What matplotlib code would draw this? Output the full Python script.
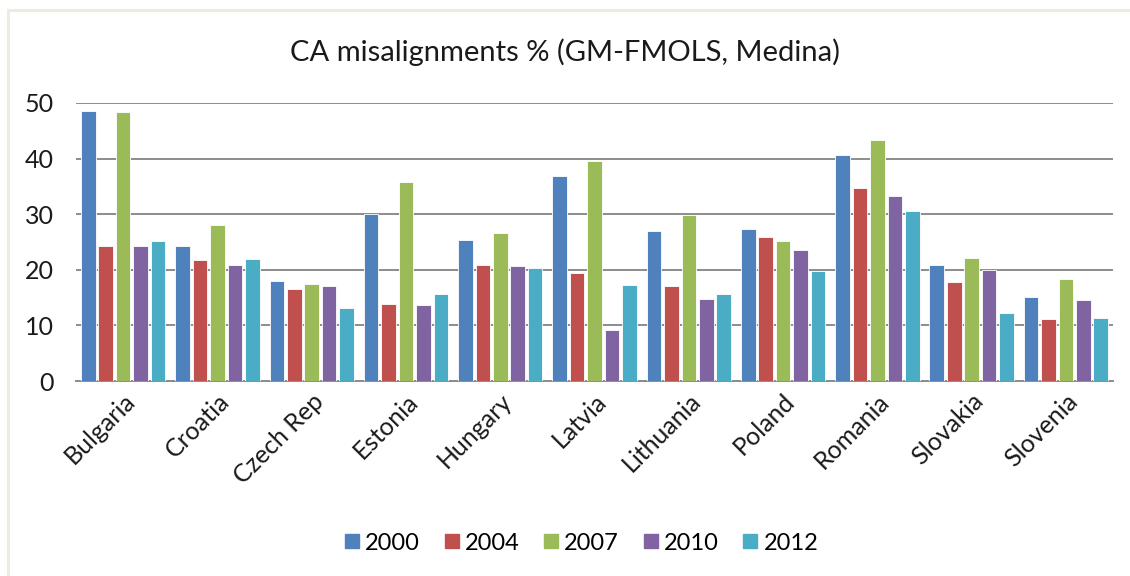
#!/usr/bin/env python3

"""CA misalignments by country, grouped bars per year."""

import matplotlib.pyplot as plt
import numpy as np
from matplotlib.lines import Line2D

countries = ["Bulgaria", "Croatia", "Czech Rep", "Estonia", "Hungary", "Latvia",
             "Lithuania", "Poland", "Romania", "Slovakia", "Slovenia"]
years = ["2000", "2004", "2007", "2010", "2012"]

y2000 = [48.5, 24.3, 18.0, 30.0, 25.4, 36.8, 27.0, 27.3, 40.6, 20.8, 15.2]
y2004 = [24.3, 21.8, 16.6, 13.9, 20.8, 19.4, 17.1, 25.9, 34.7, 17.8, 11.1]
y2007 = [48.3, 28.0, 17.5, 35.8, 26.6, 39.5, 29.9, 25.2, 43.4, 22.2, 18.4]
y2010 = [24.3, 20.8, 17.1, 13.6, 20.6, 9.1, 14.8, 23.6, 33.3, 20.0, 14.6]
y2012 = [25.2, 21.9, 13.2, 15.7, 20.3, 17.3, 15.7, 19.7, 30.5, 12.3, 11.4]

series = [y2000, y2004, y2007, y2010, y2012]
colors = ["#4F81BD", "#C0504D", "#9BBB59", "#8064A2", "#4BACC6"]

plt.rcParams["font.family"] = ["Lato", "DejaVu Sans"]

fig = plt.figure(figsize=(11.3, 5.76), dpi=100)
ax = fig.add_axes([0.0673, 0.3385, 0.9177, 0.4827])

x = np.arange(len(countries))
pitch = 0.185
width = 0.155
for i, (vals, color, label) in enumerate(zip(series, colors, years)):
    ax.bar(x + (i - 2) * pitch, vals, width=width, color=color,
           edgecolor="white", linewidth=0.6, label=label, zorder=3)

ax.set_xlim(-0.5, len(countries) - 0.5)
ax.set_ylim(0, 50)
ax.set_yticks([0, 10, 20, 30, 40, 50])
ax.yaxis.grid(True, color="#8C8C8C", linewidth=1.4, zorder=0)
ax.set_axisbelow(True)
for side in ("left", "right", "top"):
    ax.spines[side].set_visible(False)
ax.spines["bottom"].set_color("#8C8C8C")
ax.spines["bottom"].set_linewidth(1.4)
ax.tick_params(axis="y", length=0, labelsize=18, pad=16, colors="#1A1A1A")
ax.tick_params(axis="x", length=0, labelsize=18, pad=6, colors="#1A1A1A")
ax.set_xticks(x)
ax.set_xticklabels(countries, rotation=45, ha="right", va="top",
                   rotation_mode="anchor")

fig.text(0.5, 0.91, "CA misalignments % (GM-FMOLS, Medina)", ha="center",
         va="center", fontsize=21, color="#1A1A1A")

handles = [Line2D([], [], marker="s", linestyle="none", markersize=10,
                  markerfacecolor=c, markeredgecolor=c) for c in colors]
fig.legend(handles, years, loc="center", bbox_to_anchor=(0.513, 0.057), ncol=5,
           frameon=False, fontsize=17, handletextpad=0.1, columnspacing=0.9,
           handlelength=0.9)

# light chart-area frame
fig.add_artist(Line2D([8 / 1130, 8 / 1130], [0, 1 - 10 / 576],
                      transform=fig.transFigure, color="#EEECE1", linewidth=2.2))
fig.add_artist(Line2D([8 / 1130, 1], [1 - 10 / 576, 1 - 10 / 576],
                      transform=fig.transFigure, color="#EEECE1", linewidth=2.2))

fig.savefig("out.png", dpi=100)
